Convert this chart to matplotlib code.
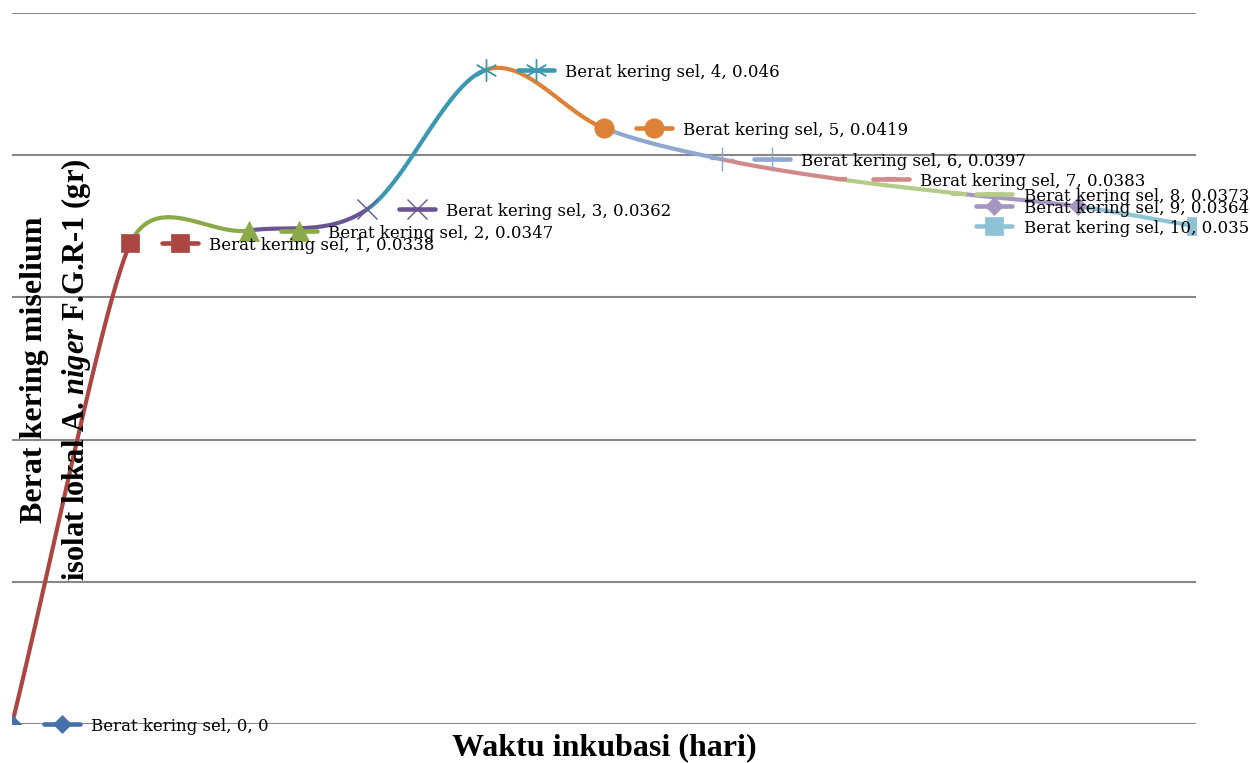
import numpy as np
import matplotlib.pyplot as plt
from matplotlib.markers import MarkerStyle
from matplotlib.transforms import ScaledTranslation

# data
days = [0, 1, 2, 3, 4, 5, 6, 7, 8, 9, 10]
dry_weight = [0, 0.0338, 0.0347, 0.0362, 0.046, 0.0419, 0.0397, 0.0383, 0.0373, 0.0364, 0.035]
series_name = "Berat kering sel"

# per-point style (Excel "vary colours by point")
colors = ["#4471A9", "#AC4643", "#8AAA4A", "#6B5494", "#3B98B2", "#DD8137",
          "#8EA8D0", "#CF8A89", "#B4CB89", "#A695C0", "#8EC3D6"]
markers = ["D", "s", "^", "x", (6, 2, 0), "o", "+", "_", "_", "D", "s"]
msizes = [9, 13, 14, 15, 16, 14, 17, 8, 11, 9, 13]
mew_thin = {3, 4, 6}

# label placement (pixel offsets from the point: key centre, text start)
key_dx = [50, 50, 50, 50, 50, 50, 50, 50, 35, -84, -202]
text_dx = [79, 79, 79, 79, 79, 79, 79, 79, 65, -54, -172]


def smooth_segments(ax, x, y, n=60):
    """Excel-like Bezier smoothing computed in screen space, one array per segment."""
    p = ax.transData.transform(np.column_stack([x, y]))
    k = len(p)
    tang = np.zeros_like(p)
    for i in range(1, k - 1):
        d = p[i + 1] - p[i - 1]
        ln = np.hypot(*d)
        short = min(np.hypot(*(p[i] - p[i - 1])), np.hypot(*(p[i + 1] - p[i])))
        tang[i] = d / ln * min(ln / 6, short / 2)
    segs = []
    t = np.linspace(0, 1, n)[:, None]
    for i in range(k - 1):
        p0, p3 = p[i], p[i + 1]
        c1 = p0 + tang[i] if i > 0 else p0 + (p3 - p0) / 3
        c2 = p3 - tang[i + 1] if i + 1 < k - 1 else p3 - (p3 - p0) / 3
        b = (1 - t) ** 3 * p0 + 3 * (1 - t) ** 2 * t * c1 + 3 * (1 - t) * t ** 2 * c2 + t ** 3 * p3
        segs.append(ax.transData.inverted().transform(b))
    return segs


fig = plt.figure(figsize=(12.5, 7.63), dpi=100)
ax = fig.add_axes([12 / 1250, 39 / 763, 1184 / 1250, 711 / 763])
ax.set_xlim(0, 10)
ax.set_ylim(0, 0.05)
ax.set_axis_off()

for gy in np.arange(0, 0.0501, 0.01):
    ax.axhline(gy, color="#878787", lw=1.5, zorder=1)

lw = 3.0
for i, seg in enumerate(smooth_segments(ax, days, dry_weight)):
    ax.plot(seg[:, 0], seg[:, 1], color=colors[i + 1], lw=lw,
            solid_capstyle="round", zorder=2 + i * 0.01)

for i, (d, v) in enumerate(zip(days, dry_weight)):
    thin = i in mew_thin
    ax.plot(d, v, linestyle="none", marker=markers[i], ms=msizes[i],
            color=colors[i], mec=colors[i],
            mew=1.0 if thin else (lw if markers[i] == "_" else 0.5), zorder=3)

dpi = fig.dpi
key_style = MarkerStyle("_", capstyle="round")
for i, (d, v) in enumerate(zip(days, dry_weight)):
    tr = ax.transData + ScaledTranslation(key_dx[i] / dpi, 0, fig.dpi_scale_trans)
    ax.plot(d, v, linestyle="none", marker=key_style, ms=26, mew=3.3,
            color=colors[i], transform=tr, clip_on=False, zorder=4)
    ax.plot(d, v, linestyle="none", marker=markers[i], ms=msizes[i],
            color=colors[i], mec=colors[i],
            mew=1.0 if i in mew_thin else (lw if markers[i] == "_" else 0.5),
            transform=tr, clip_on=False, zorder=4)
    ax.annotate(f"{series_name}, {d}, {v:g}", xy=(d, v),
                xytext=(text_dx[i] * 0.72, -2.5 * 0.72), textcoords="offset points",
                ha="left", va="center", fontsize=12, family="DejaVu Serif",
                color="black", annotation_clip=False, zorder=5)

plt.rcParams["mathtext.fontset"] = "custom"
plt.rcParams["mathtext.it"] = "Liberation Serif:italic:bold"

fig.text(604 / 1250, 1 - 748 / 763, "Waktu inkubasi (hari)", ha="center", va="center",
         fontsize=23, fontweight="bold", family="Liberation Serif")
fig.text(35 / 1250, 1 - 370 / 763, "Berat kering miselium", rotation=90,
         ha="center", va="center", fontsize=23, fontweight="bold", family="Liberation Serif")
fig.text(76 / 1250, 1 - 370 / 763, r"isolat lokal A. $\mathit{niger}$ F.G.R-1 (gr)", rotation=90,
         ha="center", va="center", fontsize=22, fontweight="bold", family="Liberation Serif")

fig.savefig("out.png", dpi=100)
